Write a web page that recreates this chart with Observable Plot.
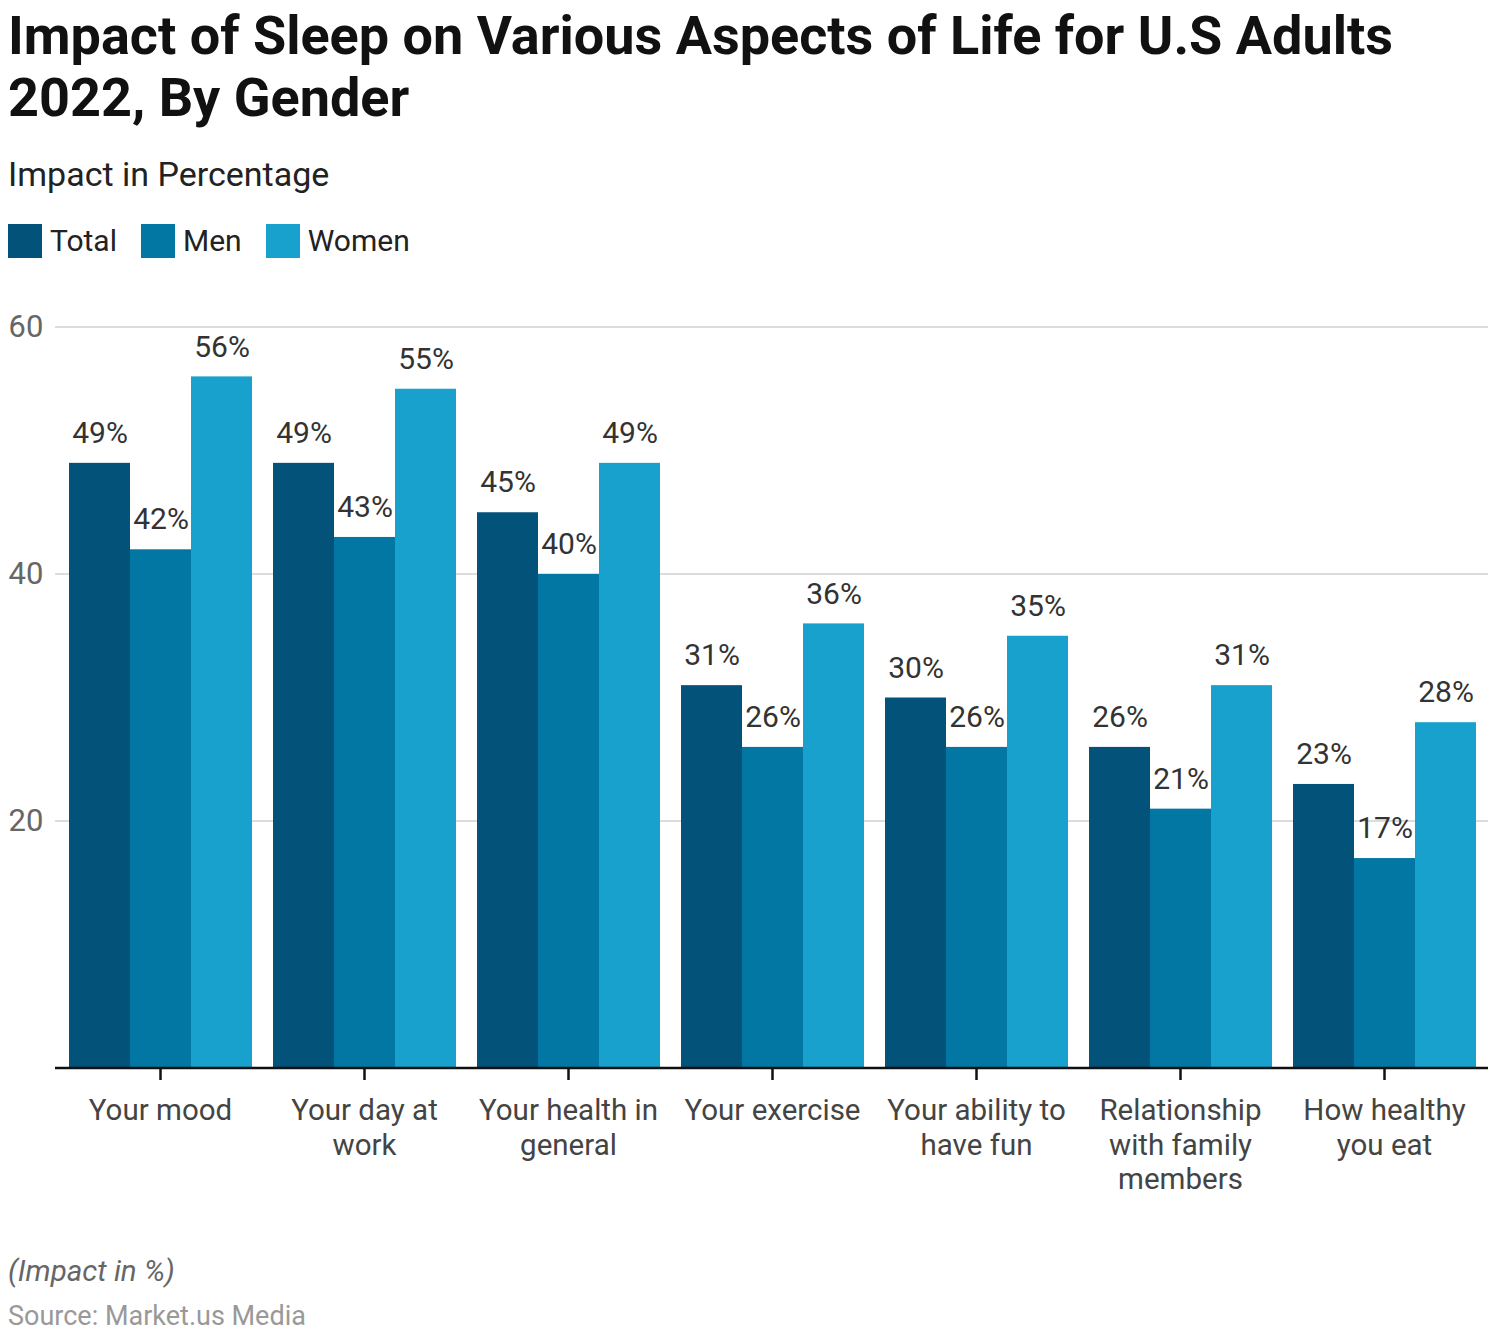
<!DOCTYPE html>
<html>
<head>
<meta charset="utf-8">
<script src="https://cdn.jsdelivr.net/npm/d3@7"></script>
<script src="https://cdn.jsdelivr.net/npm/@observablehq/plot@0.6"></script>
<style>
  html, body { margin: 0; padding: 0; background: #fff; }
  body { width: 1498px; height: 1338px; position: relative; font-family: Roboto, "Noto Sans", sans-serif; overflow: hidden; }
  .abs { position: absolute; left: 8px; }
  #title { top: 5px; font-size: 54px; line-height: 62px; font-weight: 700; color: #111; width: 1470px; }
  #subtitle { top: 157px; font-size: 34px; line-height: 34px; color: #222; }
  #legend { top: 224px; display: flex; align-items: center; font-size: 30px; line-height: 34px; color: #222; }
  #legend .item { display: flex; align-items: center; margin-right: 24px; }
  #legend .sw { width: 34px; height: 34px; margin-right: 8px; }
  #chart { position: absolute; left: 0; top: 300px; }
  #note { top: 1254px; font-size: 29.5px; font-style: italic; color: #666; }
  #source { top: 1300px; font-size: 27px; color: #999; }
</style>
</head>
<body>
<div id="title" class="abs">Impact of Sleep on Various Aspects of Life for U.S Adults 2022, By Gender</div>
<div id="subtitle" class="abs">Impact in Percentage</div>
<div id="legend" class="abs"></div>
<div id="chart"></div>
<div id="note" class="abs">(Impact in %)</div>
<div id="source" class="abs">Source: Market.us Media</div>
<script>
const categories = ["Your mood", "Your day at work", "Your health in general", "Your exercise", "Your ability to have fun", "Relationship with family members", "How healthy you eat"];
const categoryLabels = ["Your mood", "Your day at\nwork", "Your health in\ngeneral", "Your exercise", "Your ability to\nhave fun", "Relationship\nwith family\nmembers", "How healthy\nyou eat"];
const series = ["Total", "Men", "Women"];
const totalValues = [49, 49, 45, 31, 30, 26, 23];
const menValues = [42, 43, 40, 26, 26, 21, 17];
const womenValues = [56, 55, 49, 36, 35, 31, 28];
const yTicks = [20, 40, 60];
const colors = ["#02527a", "#0377a3", "#18a1cd"];

const valuesBySeries = [totalValues, menValues, womenValues];
const data = [];
categories.forEach((c, i) => {
  series.forEach((s, j) => data.push({category: c, series: s, value: valuesBySeries[j][i]}));
});

// legend
const legend = document.getElementById("legend");
series.forEach((s, j) => {
  const item = document.createElement("div");
  item.className = "item";
  item.innerHTML = `<div class="sw" style="background:${colors[j]}"></div><span>${s}</span>`;
  legend.appendChild(item);
});

const chart = Plot.plot({
  width: 1498,
  height: 908,
  marginTop: 27,
  marginBottom: 140,
  marginLeft: 55,
  marginRight: 10,
  style: {fontFamily: "Roboto, sans-serif", background: "transparent"},
  fx: {domain: categories, paddingInner: 0.1, paddingOuter: 0.05, label: null, axis: null},
  x: {domain: series, padding: 0, axis: null},
  y: {domain: [0, 60], axis: null},
  color: {domain: series, range: colors},
  marks: [
    Plot.barY(data, {fx: "category", x: "series", y: "value", fill: "series"}),
    Plot.text(data, {fx: "category", x: "series", y: "value", text: d => `${d.value}%`, dy: -30, fontSize: 30, fill: "#333"}),
    Plot.axisY({ticks: yTicks, tickSize: 0, textAnchor: "start", dx: -51, fontSize: 31, fill: "#666", label: null}),
    Plot.axisFx({anchor: "bottom", tickSize: 12, tickPadding: 15, fontSize: 29.5, fill: "#444", lineHeight: 1.17, label: null,
      tickFormat: d => categoryLabels[categories.indexOf(d)], stroke: "#111", strokeWidth: 2.5})
  ]
});
document.getElementById("chart").appendChild(chart);

// continuous gridlines and baseline across the whole plot, using Plot's own scales
const y = chart.scale("y");
const fx = chart.scale("fx");
const [x0, x1] = fx.range;
const svg = d3.select(chart);
const grid = svg.insert("g", "g");
grid.selectAll("line").data(yTicks).join("line")
  .attr("x1", x0).attr("x2", x1)
  .attr("y1", d => y.apply(d)).attr("y2", d => y.apply(d))
  .attr("stroke", "#dcdcdc").attr("stroke-width", 2);
svg.append("line")
  .attr("x1", x0).attr("x2", x1)
  .attr("y1", y.apply(0)).attr("y2", y.apply(0))
  .attr("stroke", "#111").attr("stroke-width", 2.5);
</script>
</body>
</html>
